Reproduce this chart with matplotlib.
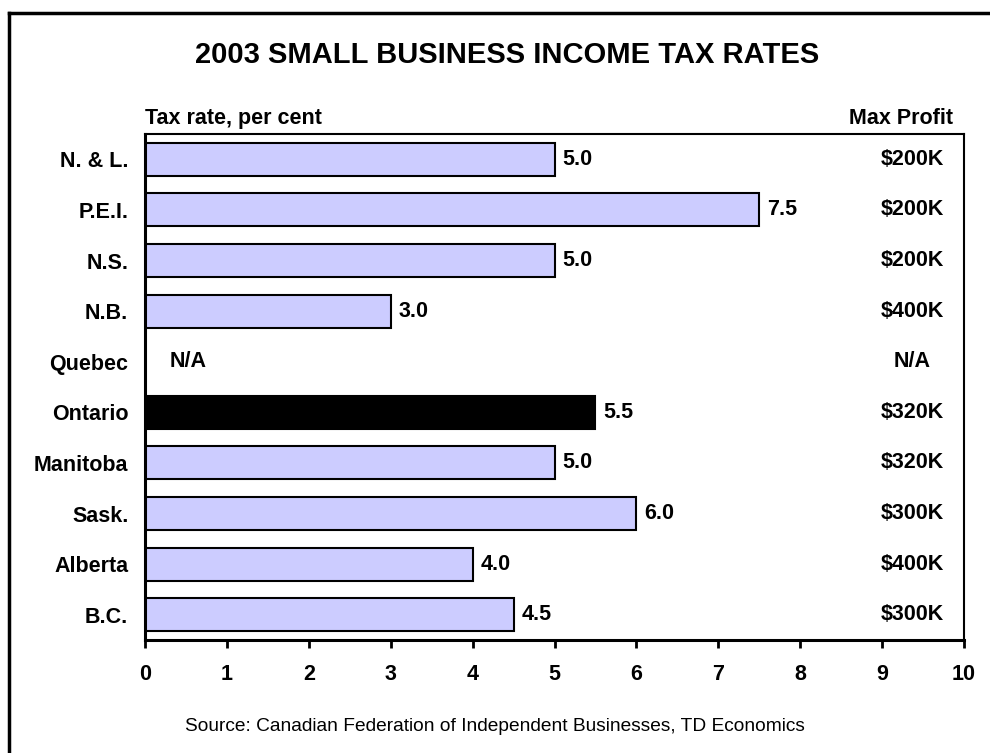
# 2003 small business income tax rates by province

import numpy as np
import matplotlib.pyplot as plt
from matplotlib.lines import Line2D

plt.rcParams['font.family'] = ['Liberation Sans', 'DejaVu Sans']
plt.rcParams['font.weight'] = 'bold'

provinces = ['N. & L.', 'P.E.I.', 'N.S.', 'N.B.', 'Quebec',
             'Ontario', 'Manitoba', 'Sask.', 'Alberta', 'B.C.']
rates = [5.0, 7.5, 5.0, 3.0, np.nan, 5.5, 5.0, 6.0, 4.0, 4.5]
max_profit = ['$200K', '$200K', '$200K', '$400K', 'N/A',
              '$320K', '$320K', '$300K', '$400K', '$300K']
highlight = 'Ontario'

fs = 15.5

fig = plt.figure(figsize=(9.9, 7.53), dpi=100)
ax = fig.add_axes([0.1465, 0.150, 0.8273, 0.672])

y = np.arange(len(provinces))
colors = ['black' if p == highlight else '#ccccff' for p in provinces]
vals = [0 if np.isnan(r) else r for r in rates]
ax.barh(y, vals, height=0.65, color=colors, edgecolor='black', linewidth=1.5)

for i, r in enumerate(rates):
    if np.isnan(r):
        ax.text(0.3, i, 'N/A', va='center', ha='left', fontsize=fs, fontweight='bold')
    else:
        ax.text(r + 0.1, i, f'{r:.1f}', va='center', ha='left', fontsize=fs, fontweight='bold')
    ax.text(9.37, i, max_profit[i], va='center', ha='center', fontsize=fs, fontweight='bold')

ax.set_xlim(0, 10)
ax.set_ylim(len(provinces) - 0.5, -0.5)
ax.set_xticks(range(0, 11))
ax.set_yticks(y)
ax.set_yticklabels(provinces, fontsize=fs, fontweight='bold')
ax.tick_params(axis='y', length=0, pad=12)
ax.tick_params(axis='x', direction='out', length=6, width=2, labelsize=fs, pad=11)
for lbl in ax.get_xticklabels():
    lbl.set_fontweight('bold')

ax.spines['left'].set_linewidth(2.2)
ax.spines['bottom'].set_linewidth(2.2)
ax.spines['top'].set_linewidth(1.5)
ax.spines['right'].set_linewidth(1.5)

fig.text(0.512, 0.927, '2003 SMALL BUSINESS INCOME TAX RATES', ha='center', va='center',
         fontsize=21, fontweight='bold')
fig.text(0.1465, 0.843, 'Tax rate, per cent', ha='left', va='center',
         fontsize=fs, fontweight='bold')
fig.text(0.963, 0.843, 'Max Profit', ha='right', va='center',
         fontsize=fs, fontweight='bold')
fig.text(0.5, 0.035, 'Source: Canadian Federation of Independent Businesses, TD Economics',
         ha='center', va='center', fontsize=13.8, fontweight='normal')

# outer frame (left and top edges)
fig.add_artist(Line2D([0.0095, 0.0095], [0.0, 0.983], color='black', linewidth=2.5,
                      transform=fig.transFigure))
fig.add_artist(Line2D([0.0095, 1.0], [0.983, 0.983], color='black', linewidth=2.5,
                      transform=fig.transFigure))

fig.savefig('out.png', dpi=100)
